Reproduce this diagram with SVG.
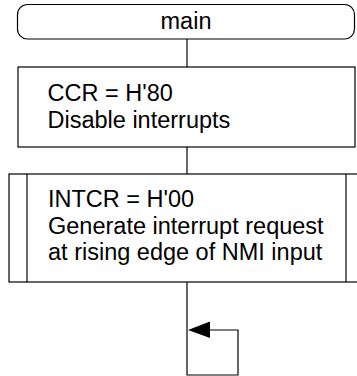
<svg xmlns="http://www.w3.org/2000/svg" width="357" height="376" viewBox="0 0 357 376">
<style>
.s{fill:#fff;stroke:#000;stroke-width:1.2}
.l{fill:none;stroke:#000;stroke-width:1.2}
.t{font-family:"Liberation Sans",Arial,sans-serif;font-size:23.5px;fill:#000}
</style>
<rect width="357" height="376" fill="#fff"/>
<g id="connectors">
<line class="l" x1="187" y1="39" x2="187" y2="67"/>
<line class="l" x1="187" y1="147" x2="187" y2="174"/>
<polyline class="l" points="187,282 187,375 238,375 238,330 208,330"/>
<polygon points="188,330 210,321.5 210,338" fill="#000"/>
</g>
<g id="main">
<rect class="s" x="17.5" y="4.5" width="337" height="34.5" rx="10" ry="10"/>
<text class="t" x="186" y="28.5" text-anchor="middle">main</text>
</g>
<g id="ccr">
<rect class="s" x="18" y="67" width="337" height="80"/>
<text class="t" x="47.5" y="101">CCR = H'80</text>
<text class="t" x="47.5" y="128">Disable interrupts</text>
</g>
<g id="intcr">
<rect class="s" x="9" y="174" width="356" height="108"/>
<line class="l" x1="27" y1="174" x2="27" y2="282"/>
<line class="l" x1="346" y1="174" x2="346" y2="282"/>
<text class="t" x="48" y="207">INTCR = H'00</text>
<text class="t" x="48" y="233.5">Generate interrupt request</text>
<text class="t" x="48" y="260">at rising edge of NMI input</text>
</g>
</svg>
